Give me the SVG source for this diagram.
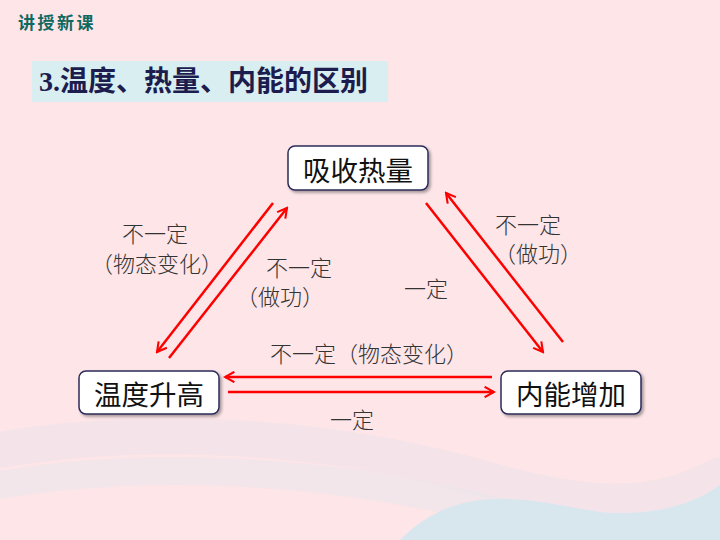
<svg xmlns="http://www.w3.org/2000/svg" width="720" height="540" viewBox="0 0 720 540">
<defs>
<style>
.node rect{fill:#fff;stroke:#2b2b5a;stroke-width:1.5;filter:url(#sh)}
.node text{font-family:"Noto Sans CJK SC","Noto Sans",sans-serif;font-size:27.5px;fill:#111;text-anchor:middle;dominant-baseline:central}
.lbl{font-family:"Noto Sans CJK SC",sans-serif;font-size:22px;fill:#333;text-anchor:middle;dominant-baseline:central;font-weight:300}
.conn line{stroke:#ff0000;stroke-width:2.5;marker-end:url(#ah)}
</style>
<marker id="ah" viewBox="0 0 12 12" refX="10" refY="6" markerWidth="5" markerHeight="5" orient="auto" markerUnits="strokeWidth">
<path d="M1,1 L10,6 L1,11" fill="none" stroke="#ff0000" stroke-width="2"/>
</marker>
<filter id="sh" x="-10%" y="-10%" width="125%" height="135%">
<feDropShadow dx="2" dy="2" stdDeviation="1.5" flood-color="#000" flood-opacity="0.35"/>
</filter>
</defs>
<rect width="720" height="540" fill="#fde5e8"/>
<g fill="none" stroke-linecap="round">
<path d="M0,450 C150,425 320,435 470,475 C560,500 640,520 720,475" stroke="#ece4ec" stroke-width="36" opacity="0.5"/>
<path d="M0,485 C150,460 320,470 470,505 C560,528 640,540 720,505" stroke="#e6e6ee" stroke-width="28" opacity="0.45"/>
</g>
<path d="M400,540 C460,480 525,500 600,512 C660,518 700,500 720,485 L720,540 Z" fill="#d8e6ee"/>
<text x="18" y="29" font-family="Noto Sans CJK SC,sans-serif" font-size="17" font-weight="bold" fill="#10695f" letter-spacing="2.5">讲授新课</text>
<rect x="32" y="61" width="356" height="41" fill="#d9eef0"/>
<text x="39" y="91" font-family="Liberation Serif,Noto Sans CJK SC,serif" font-size="28" font-weight="bold" fill="#1c1c4e">3.温度、热量、内能的区别</text>
<g class="conn">
<line x1="273" y1="203" x2="157" y2="352"/>
<line x1="169" y1="358" x2="287" y2="208"/>
<line x1="426" y1="203" x2="543" y2="352"/>
<line x1="563" y1="342" x2="446" y2="193"/>
<line x1="492" y1="377" x2="225" y2="377"/>
<line x1="228" y1="392" x2="494" y2="392"/>
</g>
<g id="n1" class="node"><rect x="288" y="146" width="140" height="44" rx="7"/><text x="358" y="169">吸收热量</text></g>
<g id="n2" class="node"><rect x="79" y="371" width="140" height="43" rx="7"/><text x="149" y="393">温度升高</text></g>
<g id="n3" class="node"><rect x="501" y="371" width="140" height="43" rx="7"/><text x="571" y="393">内能增加</text></g>
<g id="labels">
<text class="lbl" x="155" y="232"><tspan x="155" y="232">不一定</tspan><tspan x="157" y="262">（物态变化）</tspan></text>
<text class="lbl" x="299" y="266"><tspan x="299" y="266">不一定</tspan><tspan x="280" y="295">（做功）</tspan></text>
<text class="lbl" x="528" y="223"><tspan x="528" y="223">不一定</tspan><tspan x="538" y="252">（做功）</tspan></text>
<text class="lbl" x="426" y="287">一定</text>
<text class="lbl" x="369" y="352">不一定（物态变化）</text>
<text class="lbl" x="352" y="418">一定</text>
</g>
</svg>
